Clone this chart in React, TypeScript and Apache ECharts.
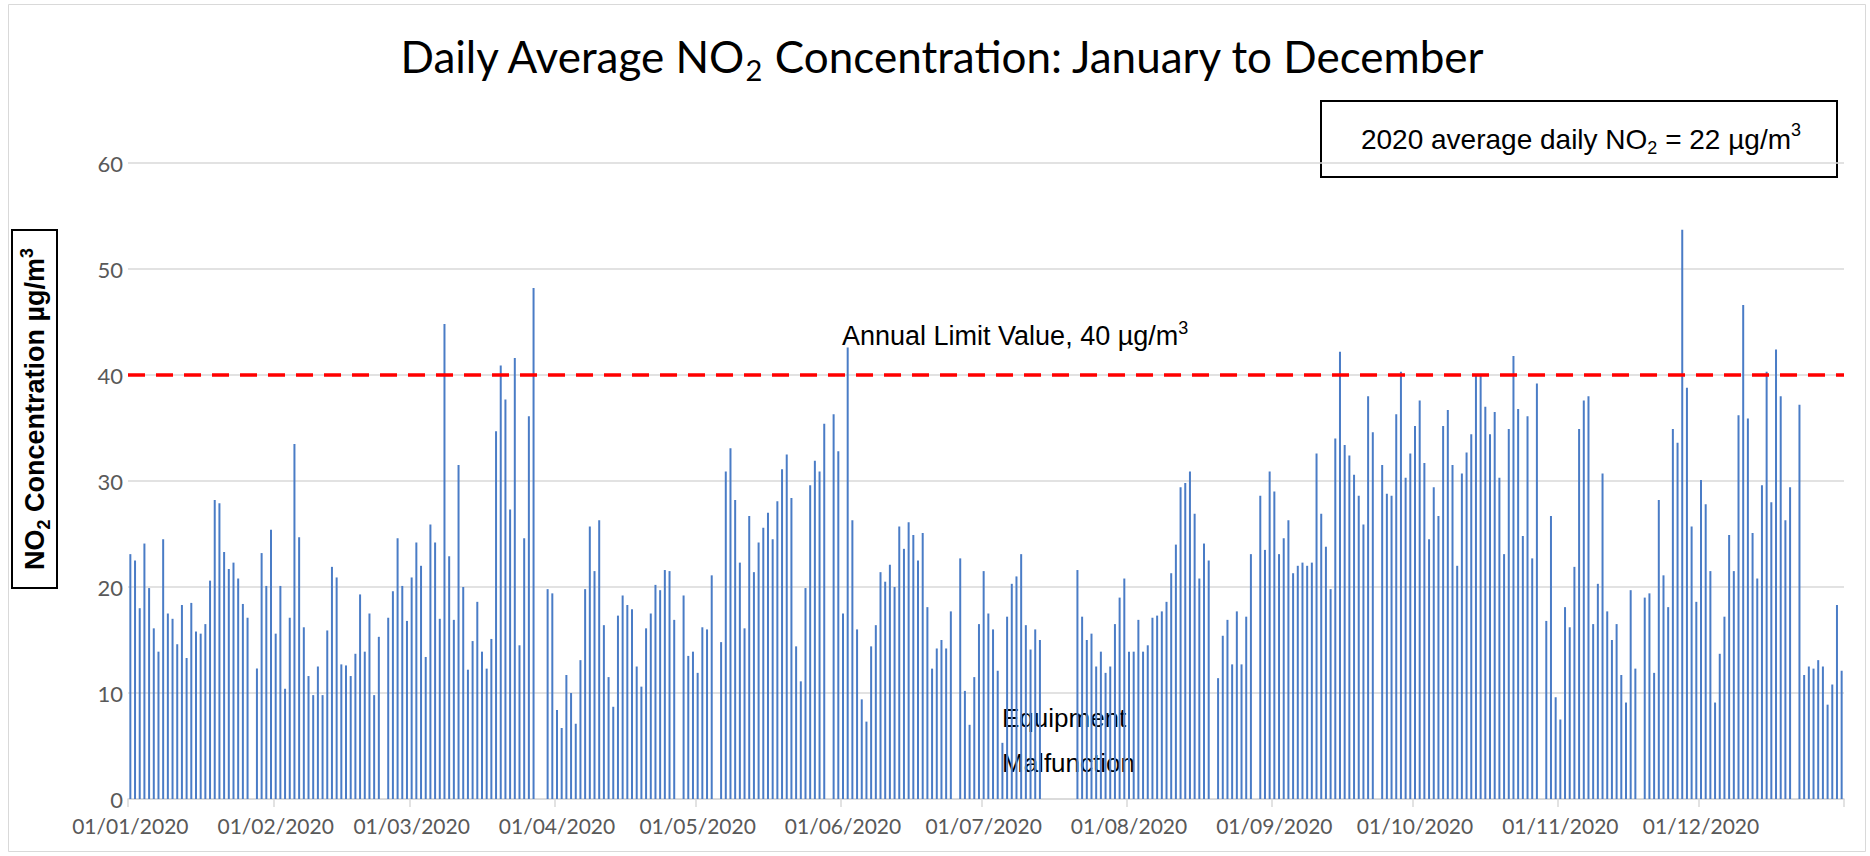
import React, { useEffect, useRef } from "react";
import * as echarts from "echarts";

// ---------------- data ----------------
const LIMIT_VALUE = 40;
const ANNUAL_AVERAGE = 22;
const Y_MIN = 0;
const Y_MAX = 60;
const Y_INTERVAL = 10;
const MONTH_LENGTHS = [31, 29, 31, 30, 31, 30, 31, 31, 30, 31, 30, 31];

// daily average NO2 (µg/m³), null = no data
const jan = [23.1, 22.5, 18.0, 24.1, 19.9, 16.1, 13.9, 24.5, 17.5, 17.0, 14.6, 18.3, 13.3, 18.5, 15.8, 15.6, 16.5, 20.6, 28.2, 27.9, 23.3, 21.7, 22.3, 20.8, 18.4, 17.1, null, 12.3, 23.2, 20.1, 25.4];
const feb = [15.6, 20.1, 10.4, 17.1, 33.5, 24.7, 16.2, 11.6, 9.8, 12.5, 9.8, 15.9, 21.9, 20.9, 12.7, 12.6, 11.6, 13.7, 19.3, 13.9, 17.5, 9.8, 15.3, null, 17.1, 19.6, 24.6, 20.1, 16.8];
const mar = [20.9, 24.2, 22.0, 13.4, 25.9, 24.2, 17.0, 44.8, 22.9, 16.9, 31.5, 20.0, 12.2, 14.9, 18.6, 13.9, 12.3, 15.1, 34.7, 40.9, 37.7, 27.3, 41.6, 14.5, 24.6, 36.1, 48.2, null, null, 19.8, 19.4];
const apr = [8.4, 6.7, 11.7, 10.0, 7.1, 13.1, 19.8, 25.7, 21.5, 26.3, 16.4, 11.5, 8.7, 17.3, 19.2, 18.3, 17.9, 12.5, 10.6, 16.1, 17.5, 20.2, 19.7, 21.6, 21.5, 16.9, null, 19.2, 13.5, 13.9];
const may = [11.9, 16.2, 16.0, 21.1, null, 14.8, 30.9, 33.1, 28.2, 22.3, 16.1, 26.7, 21.4, 24.2, 25.6, 27.0, 24.5, 28.1, 31.1, 32.5, 28.4, 14.4, 11.1, 19.9, 29.6, 31.9, 30.9, 35.4, null, 36.3, 32.8];
const jun = [17.5, 42.6, 26.3, 16.0, 9.4, 7.3, 14.4, 16.4, 21.4, 20.5, 22.1, 20.0, 25.7, 23.6, 26.1, 24.9, 22.5, 25.1, 18.1, 12.3, 14.2, 15.0, 14.2, 17.7, null, 22.7, 10.2, 7.0, 11.5, 16.5];
const jul = [21.5, 17.5, 16.0, 12.1, 5.3, 17.2, 20.3, 21.0, 23.1, 16.4, 14.1, 16.0, 15.0, null, null, null, null, null, null, null, 21.6, 17.2, 15.0, 15.6, 12.5, 13.9, 11.9, 12.5, 16.5, 19.0, 20.8];
const aug = [13.9, 13.9, 16.9, 13.9, 14.5, 17.1, 17.3, 17.7, 18.6, 21.3, 24.0, 29.4, 29.8, 30.9, 26.9, 20.8, 24.1, 22.5, null, 11.4, 15.4, 16.9, 12.7, 17.7, 12.7, 17.2, 23.1, null, 28.6, 23.5, 30.9];
const sep = [29.0, 23.1, 24.6, 26.3, 21.3, 22.0, 22.3, 22.0, 22.3, 32.6, 26.9, 23.8, 19.8, 34.0, 42.2, 33.4, 32.4, 30.6, 28.6, 25.9, 38.0, 34.6, null, 31.5, 28.8, 28.6, 36.3, 40.3, 30.3, 32.6];
const oct = [35.2, 37.6, 31.7, 24.5, 29.4, 26.7, 35.2, 36.7, 31.5, 22.0, 30.7, 32.7, 34.4, 40.0, 40.0, 37.0, 34.4, 36.5, 30.3, 23.1, 34.9, 41.8, 36.8, 24.8, 36.1, 22.7, 39.2, null, 16.8, 26.7, 9.6];
const nov = [7.5, 18.1, 16.2, 21.9, 34.9, 37.6, 38.0, 16.5, 20.3, 30.7, 17.7, 15.0, 16.5, 11.7, 9.1, 19.7, 12.3, null, 19.0, 19.4, 11.9, 28.2, 21.1, 18.1, 34.9, 33.6, 53.7, 38.8, 25.7, 18.6];
const dec = [30.1, 27.8, 21.5, 9.1, 13.7, 17.2, 24.9, 21.5, 36.2, 46.6, 35.9, 25.1, 20.8, 29.6, 40.3, 28.0, 42.4, 38.0, 26.3, 29.4, null, 37.2, 11.7, 12.5, 12.3, 13.1, 12.5, 8.9, 10.8, 18.3, 12.1];

const DAILY_NO2 = [...jan, ...feb, ...mar, ...apr, ...may, ...jun, ...jul, ...aug, ...sep, ...oct, ...nov, ...dec];

// category labels dd/mm/2020
const pad = (n: number) => (n < 10 ? "0" + n : "" + n);
const DATES: string[] = [];
MONTH_LENGTHS.forEach((len, m) => {
  for (let d = 1; d <= len; d++) DATES.push(pad(d) + "/" + pad(m + 1) + "/2020");
});

const isMonthStart = (_i: number, v: string) => v.startsWith("01/");

const ARIAL = "'Liberation Sans', Arial, sans-serif";
const CAL = "Lato, 'Noto Sans', sans-serif";

function arialRich(size: number, weight: string = "normal") {
  return {
    t: { fontSize: size, fontFamily: ARIAL, fontWeight: weight, lineHeight: Math.round(size * 1.3), fill: "#000" },
    sub: { fontSize: Math.round(size * 0.66), fontFamily: ARIAL, fontWeight: weight, lineHeight: Math.round(size * 0.72), verticalAlign: "bottom", fill: "#000" },
    sup: { fontSize: Math.round(size * 0.66), fontFamily: ARIAL, fontWeight: weight, lineHeight: Math.round(size * 0.72), verticalAlign: "top", fill: "#000" },
  };
}

export default function App() {
  const ref = useRef<HTMLDivElement>(null);
  useEffect(() => {
    if (!ref.current) return;
    const chart = echarts.init(ref.current, null, { renderer: "svg" });
    const option: any = {
      animation: false,
      backgroundColor: "#ffffff",
      grid: { left: 128, right: 26, top: 163, bottom: 57, containLabel: false, outerBoundsMode: "none" },
      xAxis: {
        type: "category",
        data: DATES,
        boundaryGap: true,
        axisLine: { show: true, lineStyle: { color: "#d9d9d9", width: 1.5 } },
        axisTick: { show: true, interval: isMonthStart, length: 8, lineStyle: { color: "#d9d9d9", width: 1.5 } },
        axisLabel: { interval: isMonthStart, color: "#595959", fontSize: 21, fontFamily: CAL, margin: 16 },
        splitLine: { show: false },
      },
      yAxis: {
        type: "value",
        min: Y_MIN,
        max: Y_MAX,
        interval: Y_INTERVAL,
        axisLine: { show: false },
        axisTick: { show: false },
        axisLabel: { color: "#595959", fontSize: 22, fontFamily: CAL, margin: 5 },
        splitLine: { show: true, lineStyle: { color: "#d9d9d9", width: 1.5 } },
      },
      series: [
        {
          type: "bar",
          data: DAILY_NO2,
          barWidth: 2,
          itemStyle: { color: "#4a7cc6" },
          markLine: {
            silent: true,
            symbol: ["none", "none"],
            label: { show: false },
            lineStyle: { color: "#ff0000", type: [17, 11], width: 3.5 },
            data: [{ yAxis: LIMIT_VALUE }],
          },
        },
      ],
      graphic: [
        {
          type: "rect",
          shape: { x: 8.5, y: 4.5, width: 1857, height: 847 },
          style: { fill: "none", stroke: "#d9d9d9", lineWidth: 1 },
          silent: true,
        },
        {
          type: "text",
          x: 942,
          y: 56,
          style: {
            text: "{t|Daily Average NO}{sub|2}{t| Concentration: January to December}",
            align: "center",
            verticalAlign: "middle",
            rich: {
              t: { fontSize: 44, fontFamily: CAL, lineHeight: 56, fill: "#000" },
              sub: { fontSize: 29, fontFamily: CAL, lineHeight: 32, verticalAlign: "bottom", fill: "#000" },
            },
          },
        },
        {
          type: "rect",
          shape: { x: 1321, y: 101, width: 516, height: 76 },
          style: { fill: "#fff", stroke: "#000", lineWidth: 2 },
        },
        {
          type: "text",
          x: 1581,
          y: 139,
          style: {
            text: "{t|" + "2020 average daily NO" + "}{sub|2}{t| = " + ANNUAL_AVERAGE + " µg/m}{sup|3}",
            align: "center",
            verticalAlign: "middle",
            rich: arialRich(28),
          },
        },
        {
          type: "rect",
          shape: { x: 12, y: 230, width: 45, height: 358 },
          style: { fill: "#fff", stroke: "#000", lineWidth: 2 },
        },
        {
          type: "text",
          x: 35,
          y: 409,
          rotation: Math.PI / 2,
          style: {
            text: "{t|NO}{sub|2}{t| Concentration µg/m}{sup|3}",
            align: "center",
            verticalAlign: "middle",
            rich: arialRich(27, "bold"),
          },
        },
        {
          type: "text",
          x: 842,
          y: 336,
          style: {
            text: "{t|Annual Limit Value, " + LIMIT_VALUE + " µg/m}{sup|3}",
            align: "left",
            verticalAlign: "middle",
            rich: arialRich(27),
          },
        },
        {
          type: "text",
          x: 1002,
          y: 718,
          style: { text: "Equipment", align: "left", verticalAlign: "middle", fontSize: 26, fontFamily: ARIAL, fill: "#000" },
        },
        {
          type: "text",
          x: 1002,
          y: 763,
          style: { text: "Malfunction", align: "left", verticalAlign: "middle", fontSize: 26, fontFamily: ARIAL, fill: "#000" },
        },
      ],
    };
    chart.setOption(option);
    return () => chart.dispose();
  }, []);
  return (
    <div
      ref={ref}
      style={{ position: "fixed", left: 0, top: 0, width: 1870, height: 856, background: "#fff" }}
    />
  );
}
